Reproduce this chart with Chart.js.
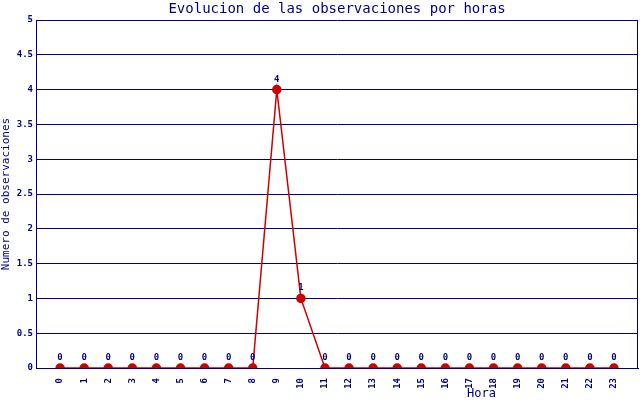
<!DOCTYPE html>
<html>
<head>
<meta charset="utf-8">
<script src="https://cdn.jsdelivr.net/npm/chart.js@4/dist/chart.umd.min.js"></script>
<style>
  html, body { margin: 0; padding: 0; background: #fff; }
  #wrap { width: 640px; height: 400px; }
</style>
</head>
<body>
<div id="wrap"><canvas id="c" width="640" height="400"></canvas></div>
<script>
const TITLE = "Evolucion de las observaciones por horas";
const X_TITLE = "Hora";
const Y_TITLE = "Numero de observaciones";
const hours = [0,1,2,3,4,5,6,7,8,9,10,11,12,13,14,15,16,17,18,19,20,21,22,23];
const observations = [0,0,0,0,0,0,0,0,0,4,1,0,0,0,0,0,0,0,0,0,0,0,0,0];

const NAVY = "#000080";
const RED = "#cc0000";
const MONO = "'DejaVu Sans Mono', 'Liberation Mono', monospace";

// title, value labels, x title and right border drawn on the canvas
const extras = {
  id: "extras",
  afterDatasetsDraw(chart) {
    const { ctx, chartArea: a } = chart;
    ctx.save();
    ctx.strokeStyle = NAVY;
    ctx.lineWidth = 1;
    ctx.beginPath();
    ctx.moveTo(a.right - 0.5, a.top);
    ctx.lineTo(a.right - 0.5, a.bottom);
    ctx.stroke();

    ctx.fillStyle = NAVY;
    ctx.textAlign = "center";
    ctx.textBaseline = "middle";
    ctx.font = "14px " + MONO;
    ctx.fillText(TITLE, (a.left + a.right) / 2, 9);

    ctx.font = "12px " + MONO;
    ctx.fillText(X_TITLE, a.left + (a.right - a.left) * 0.74, 394);

    ctx.font = "bold 9px " + MONO;
    ctx.textBaseline = "alphabetic";
    const meta = chart.getDatasetMeta(0);
    meta.data.forEach((pt, i) => {
      ctx.fillText(String(observations[i]), pt.x, pt.y - 8);
    });
    ctx.restore();
  }
};

new Chart(document.getElementById("c"), {
  type: "line",
  data: {
    datasets: [{
      data: hours.map((h, i) => ({ x: h, y: observations[i] })),
      borderColor: RED,
      borderWidth: 1.5,
      backgroundColor: RED,
      pointBackgroundColor: RED,
      pointBorderColor: RED,
      pointRadius: 4,
      tension: 0
    }]
  },
  options: {
    responsive: false,
    animation: false,
    layout: { autoPadding: false, padding: { top: 20, right: 2, left: 0, bottom: 0 } },
    plugins: { legend: { display: false }, title: { display: false }, tooltip: { enabled: false } },
    scales: {
      x: {
        type: "linear",
        min: -1, max: 24,
        afterFit: s => { s.height = 32; },
        afterBuildTicks: s => { s.ticks = hours.map(h => ({ value: h })); },
        grid: { display: false },
        border: { color: NAVY, width: 1 },
        ticks: {
          color: NAVY,
          font: { family: MONO, size: 9, weight: "bold" },
          minRotation: 90, maxRotation: 90,
          autoSkip: false,
          padding: 2,
          callback: v => String(v)
        }
      },
      y: {
        min: 0, max: 5,
        afterFit: s => { s.width = 36; },
        grid: { color: NAVY, lineWidth: 1, drawTicks: false },
        border: { color: NAVY, width: 1 },
        ticks: {
          stepSize: 0.5,
          color: NAVY,
          font: { family: MONO, size: 9, weight: "bold" },
          padding: 3,
          callback: v => String(v)
        },
        title: {
          display: true,
          text: Y_TITLE,
          color: NAVY,
          font: { family: MONO, size: 11 },
          padding: 0
        }
      }
    }
  },
  plugins: [extras]
});
</script>
</body>
</html>
